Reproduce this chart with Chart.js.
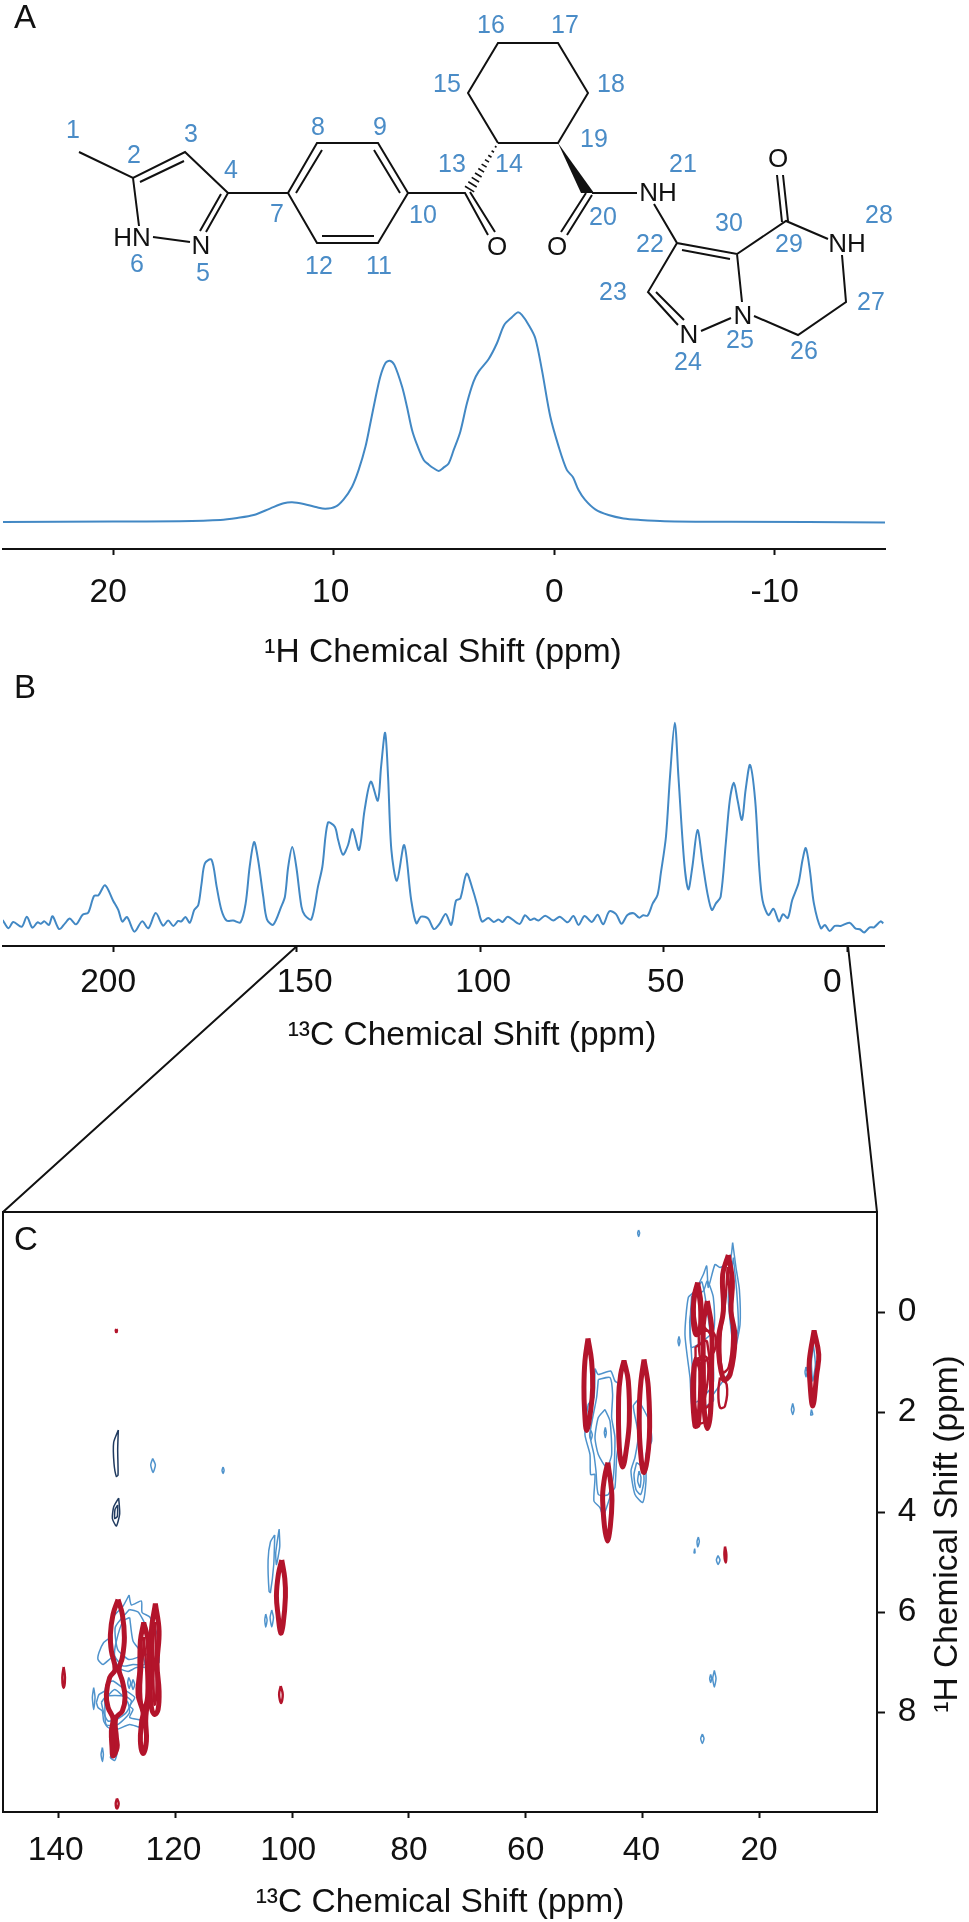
<!DOCTYPE html>
<html>
<head>
<meta charset="utf-8">
<title>NMR spectra</title>
<script src="https://cdn.jsdelivr.net/npm/chart.js@4"></script>
<style>
  html, body { margin: 0; padding: 0; background: #fff; }
  #page { position: relative; width: 969px; height: 1922px; overflow: hidden; }
  canvas { position: absolute; left: 0; }
  #drawing { position: absolute; left: 0; top: 0; }
  #drawing text { font-family: "Liberation Sans", sans-serif; text-anchor: middle; dominant-baseline: central; }
  #drawing .num { fill: #4a8cc7; font-size: 25px; }
  #drawing .atom { fill: #111; font-size: 26px; }
  #drawing .panel { fill: #111; font-size: 33px; }
</style>
</head>
<body>
<div id="page">
  <canvas id="protonChart" width="969" height="390" style="top:290px"></canvas>
  <canvas id="carbonChart" width="969" height="360" style="top:700px"></canvas>
  <canvas id="hetcorChart" width="969" height="722" style="top:1200px"></canvas>

  <!-- molecule, panel letters and the zoom connectors -->
  <svg id="drawing" width="969" height="1922">
    <g fill="none" stroke="#111" stroke-width="2">
      <path d="M79 152L133 178L185 152L228 193L206 232M140 182L184 161M221 194L200 231M153 237L190 242M133 178L139 226M228 193H288L317 143H378L408 193L378 243H317L288 193M296 193L322 150M374 150L400 193M322 236H374M408 193H465L488 235M470 192L495 232"/>
      <path d="M498 143L468 93L498 43H558L588 93L558 143H498M586 193L561 232M592 195L567 235M592 193H637M654 204L677 243L737 254L786 221L828 239M682 250L730 259M782 222L777 175M788 221L783 175M842 255L846 302L798 335L754 316M737 254L742 302M677 243L648 292L678 325M656 292L684 320M701 331L731 318"/>
      <path stroke-width="1.6" d="M494.9 146.3L496.5 147.3M491.6 150.8L494 152.2M488.3 155.2L491.5 157.2M485 159.6L489 162.2M481.6 164.1L486.6 167.1M478.3 168.5L484.1 172.1M475 173L481.6 177M471.7 177.4L479.1 182M468.3 181.8L476.7 187M465 186.3L474.2 191.9"/>
    </g>
    <polygon points="558,143 594,193 581,193" fill="#111"/>
    <path d="M297 946L3 1212M848 946L877 1212" stroke="#111" stroke-width="2" fill="none"/>

    <text class="atom" x="132" y="237">HN</text><text class="atom" x="201" y="245">N</text>
    <text class="atom" x="497" y="246">O</text><text class="atom" x="557" y="246">O</text>
    <text class="atom" x="658" y="192">NH</text><text class="atom" x="778" y="158">O</text>
    <text class="atom" x="847" y="243">NH</text><text class="atom" x="689" y="334">N</text>
    <text class="atom" x="743" y="315">N</text>

    <text class="num" x="73" y="129">1</text><text class="num" x="134" y="154">2</text>
    <text class="num" x="191" y="133">3</text><text class="num" x="231" y="169">4</text>
    <text class="num" x="203" y="272">5</text><text class="num" x="137" y="263">6</text>
    <text class="num" x="277" y="213">7</text><text class="num" x="318" y="126">8</text>
    <text class="num" x="380" y="126">9</text><text class="num" x="423" y="214">10</text>
    <text class="num" x="379" y="265">11</text><text class="num" x="319" y="265">12</text>
    <text class="num" x="452" y="163">13</text><text class="num" x="509" y="163">14</text>
    <text class="num" x="447" y="83">15</text><text class="num" x="491" y="24">16</text>
    <text class="num" x="565" y="24">17</text><text class="num" x="611" y="83">18</text>
    <text class="num" x="594" y="138">19</text><text class="num" x="603" y="216">20</text>
    <text class="num" x="683" y="163">21</text><text class="num" x="650" y="243">22</text>
    <text class="num" x="613" y="291">23</text><text class="num" x="688" y="361">24</text>
    <text class="num" x="740" y="339">25</text><text class="num" x="804" y="350">26</text>
    <text class="num" x="871" y="301">27</text><text class="num" x="879" y="214">28</text>
    <text class="num" x="789" y="243">29</text><text class="num" x="729" y="222">30</text>

    <text class="panel" x="25" y="16">A</text>
    <text class="panel" x="25" y="686">B</text>
    <text class="panel" x="26" y="1238">C</text>
  </svg>
</div>

<script>
// -----------------------------
// Data: [ppm, intensity]
// -----------------------------
const protonTicks = [20, 10, 0, -10];
const protonSpectrum = [
  [25, 0], [20, 0.2], [17, 0.4], [15.14, 0.95], [14.38, 1.9], [13.63, 3.3], [12.87, 6.5], [12.27, 8.9],
  [11.89, 9.4], [11.36, 8.6], [10.76, 7], [10.38, 6.3], [9.92, 7.3], [9.55, 10.8], [9.17, 16.8], [8.87, 24.8],
  [8.56, 35.9], [8.34, 47], [8.11, 58.9], [7.89, 69.2], [7.66, 75.6], [7.46, 76.8], [7.25, 74.8], [6.9, 64.4],
  [6.68, 54.9], [6.45, 43.8], [6.22, 36.7], [5.92, 29.5], [5.69, 27.3], [5.47, 25.6], [5.24, 24.3], [5.02, 25.9],
  [4.79, 27.9], [4.56, 34.3], [4.26, 43], [3.96, 56.5], [3.66, 66.8], [3.43, 71.6], [2.98, 77.5], [2.6, 85.1],
  [2.27, 93.8], [1.92, 97.5], [1.66, 99.8], [1.47, 98.6], [1.16, 93.8], [0.86, 87.5], [0.56, 72.4], [0.18, 50.2],
  [-0.2, 35.9], [-0.57, 24.8], [-0.85, 21.3], [-1.1, 15.2], [-1.4, 10.5], [-1.86, 6], [-2.46, 3.3], [-3.14, 1.7],
  [-3.9, 1], [-5, 0.4], [-8, 0.1], [-15, -0.2]
];

const carbonTicks = [200, 150, 100, 50, 0];
const carbonSpectrum = [
  [230.1, 0], [228.5, -4.2], [227.2, -1], [224.9, -3.4], [223.5, 1.7], [222, -3.9], [220.6, -1.2], [219.7, -1.9],
  [218.7, -0.7], [217.5, -2.5], [216.5, 1.9], [214.7, -4.6], [213.1, -1.7], [211.8, 0.7], [210.1, -2.2], [208.3, 2.7],
  [206.8, 3.7], [205.2, 12.2], [204, 12.5], [202.2, 17.6], [200, 9.8], [198.6, 5.1], [197.5, -0.8], [196.2, 1.5],
  [194.2, -5.9], [192.1, -0.7], [190.4, -4.2], [188.4, 3.5], [186.4, -2.9], [185, -0.3], [183.6, -3], [182.3, -0.5],
  [181.4, -0.7], [180.3, 1.5], [179.1, -1.4], [177.9, 5.1], [176.8, 7.6], [175.9, 18.6], [175, 28.7], [173.2, 30.6],
  [171.8, 16.9], [170.5, 5.1], [169.1, -0.3], [167.3, -0.3], [165.3, -1.2], [163.9, 8.4], [162.8, 27], [161.6, 39.5],
  [160.5, 30.4], [159.1, 11.8], [158.1, 0.3], [156.4, -2.4], [154.2, 6.8], [153.2, 11.8], [152.3, 27], [151.2, 37],
  [150.1, 27], [148.7, 6.8], [147.8, 2.5], [146, 0.3], [144.2, 16.9], [143, 27], [141.5, 49.3], [139.6, 47.3],
  [138.7, 40.5], [137.4, 33.1], [136, 38], [134.8, 46.1], [133, 35.5], [131.5, 55.7], [129.8, 70.1], [127.9, 60.5],
  [127, 77.7], [125.9, 94.9], [125.1, 72.6], [124.2, 35.5], [122.7, 19.9], [120.7, 38], [118.8, 10.1], [117.4, -1.7],
  [116.1, 1.7], [114.2, 0.8], [112.6, -4.6], [111.1, -2], [109.4, 3], [107.9, -2.5], [106.6, 9.8], [105.4, 11],
  [103.7, 23.5], [102, 15.2], [100.7, 6.8], [99.5, -0.8], [97.8, 1], [96.3, -1], [95, 0.3], [93.9, -1],
  [92.5, 1.7], [89.3, -2], [87.8, 2.4], [86.4, 0], [85.3, 0.7], [84.1, -0.3], [82.3, 2.2], [80.1, -0.3],
  [78.3, 1.7], [76.2, -1.2], [74.6, 2], [73.2, -2.5], [71.6, 2], [69.6, -1], [68, 2.7], [66.5, -2.2],
  [64.8, 4.4], [63, 3], [61.5, -1.9], [59.9, 2.5], [58.2, 3.4], [56.7, 1.2], [55.6, 2.4], [54.4, 2.2],
  [53, 8.4], [51.7, 12.7], [50.8, 23.6], [49.4, 42.2], [48.3, 72.6], [47, 100], [46, 72.6], [44.4, 28.7],
  [43.3, 15.5], [42.2, 27], [40.8, 45.6], [39.4, 28.7], [38.1, 13.5], [36.9, 5.1], [35.8, 8.4], [34.5, 11.8],
  [33.1, 38.9], [32, 60.8], [30.9, 69.6], [29.9, 60.8], [28.7, 50.7], [27.7, 65.9], [26.5, 78.6], [25.1, 60.8],
  [24, 27], [23.1, 10.1], [21.5, 2.5], [20.1, 5.7], [18.6, -0.7], [17.5, 2.9], [16.2, 1], [15, 10.1],
  [13.3, 18.6], [12.2, 30.4], [11.3, 36.5], [10.2, 25.3], [9.1, 8.4], [7.2, -4.2], [6.1, -2.5], [4.8, -5.6],
  [3.4, -3], [1.8, -3], [-0.6, -1.4], [-2.3, -4.4], [-3.4, -4.7], [-4.6, -6.3], [-6.1, -3.7], [-7.3, -3.7],
  [-9.1, -0.7], [-9.8, -1.7]
];

// 2D spectrum contours: each is a closed outline of [13C ppm, 1H ppm]
const hetcorXTicks = [140, 120, 100, 80, 60, 40, 20];
const hetcorYTicks = [0, 2, 4, 6, 8];

const redContours = [
  // 125-130 ppm aromatic group
  [[129.84, 5.75], [129.1, 6.05], [128.75, 6.51], [129.1, 6.91], [129.67, 7.15], [129.1, 7.38], [128.64, 7.71], [129.1, 7.98], [130.24, 8.13], [130.12, 8.51], [130, 8.71], [130.7, 8.88], [130.87, 8.71], [130.98, 8.38], [130.7, 8.13], [131.55, 7.91], [131.84, 7.65], [131.27, 7.31], [130.35, 7.15], [130.98, 6.78], [131.15, 6.45], [130.7, 6.05]],
  [[125.44, 6.21], [124.7, 6.58], [124.58, 7.18], [124.52, 7.65], [124.98, 7.98], [125.1, 8.18], [124.98, 8.58], [125.55, 8.83], [126.01, 8.58], [125.78, 8.18], [125.55, 8.01], [126.41, 7.65], [126.12, 7.18], [126.01, 6.58]],
  [[123.44, 5.83], [122.81, 6.38], [123.15, 7.05], [122.81, 7.58], [122.98, 7.95], [123.55, 8.05], [124.12, 7.91], [124.3, 7.58], [123.95, 7.11], [124.12, 6.38]],
  [[101.79, 4.96], [101.27, 5.33], [101.16, 5.7], [101.56, 6.25], [101.96, 6.42], [102.41, 6.07], [102.7, 5.68], [102.36, 5.24]],
  // 40-50 ppm group
  [[49.32, 0.53], [48.7, 0.98], [48.52, 1.51], [48.87, 1.98], [49.55, 2.37], [49.9, 1.98], [50.01, 1.51], [49.84, 0.98]],
  [[43.15, 0.97], [42.41, 1.38], [42.24, 2.18], [42.7, 2.71], [43.38, 3.1], [43.95, 2.71], [44.07, 1.71], [43.72, 1.25]],
  [[39.72, 0.95], [38.98, 1.51], [38.81, 2.51], [39.72, 3.21], [40.41, 2.65], [40.52, 1.91], [40.24, 1.38]],
  [[45.9, 3.01], [45.21, 3.77], [46.01, 4.58], [46.81, 3.77], [46.47, 3.3]],
  // 25-31 ppm group
  [[25.27, -1.14], [24.58, -0.62], [24.81, -0.02], [24.13, 0.51], [24.98, 1.25], [26.13, 1.35], [26.98, 0.58], [26.13, -0.02], [26.24, -0.75]],
  [[30.53, -0.59], [29.96, -0.15], [30.13, 0.38], [30.81, 0.45], [31.27, 0.18], [31.16, -0.29]],
  [[30.7, 0.91], [30.01, 1.18], [30.41, 2.25], [30.98, 2.28], [31.38, 1.58], [31.16, 1.11]],
  [[28.87, -0.22], [28.13, 0.31], [28.13, 1.05], [28.3, 1.98], [28.87, 2.33], [29.38, 1.98], [29.56, 1.05], [29.56, 0.25]],
  [[10.58, 0.37], [9.78, 0.85], [10.13, 1.25], [10.81, 1.88], [11.38, 1.25], [11.38, 0.95]]
];
const redThinContours = [
  [[26.7, 1.31], [25.56, 1.45], [25.84, 1.88], [26.7, 1.91], [26.98, 1.58]],
  [[30.41, 0.38], [27.84, 0.41], [27.67, 0.78], [29.84, 0.98]],
  [[31.27, 1.05], [28.98, 0.91], [29.27, 1.71], [30.81, 1.98]],
  [[30.9, 0.7], [28.9, 0.6], [28.6, 2.1], [30.6, 2.2]],
  [[29.4, 0.3], [28.2, 0.5], [28.3, 1.8], [29.3, 1.9]],
  [[30.6, -0.45], [30.2, 0], [30.4, 0.4], [31, 0.1], [31, -0.2]],
  [[25.4, -0.9], [25, -0.3], [24.6, 0.5], [25.2, 1.1], [26.3, 1.2], [26.6, 0.5], [25.8, -0.2]],
  [[123.5, 6.2], [123.3, 7], [123.3, 7.7], [123.6, 7.85], [123.8, 7.1], [123.8, 6.3]],
  [[125.4, 6.5], [125, 7.2], [125, 7.7], [125.5, 7.9], [125.9, 7.6], [125.7, 7.1]],
  [[130.4, 8.2], [130.3, 8.6], [130.5, 8.75], [130.7, 8.5]],
  [[130.13, 0.34], [130.02, 0.37], [130.13, 0.4], [130.24, 0.37]],
  [[139.16, 7.1], [138.93, 7.31], [139.16, 7.52], [139.39, 7.31]],
  [[130.02, 9.73], [129.73, 9.83], [130.02, 9.93], [130.24, 9.83]],
  [[101.96, 7.48], [101.62, 7.65], [101.9, 7.82], [102.24, 7.65]],
  [[25.84, 4.69], [25.61, 4.85], [25.72, 5.01], [25.95, 4.85]]
];
const navyContours = [
  [[129.79, 2.36], [129.9, 2.75], [129.84, 3.26], [130.13, 3.29], [130.53, 3.03], [130.59, 2.61]],
  [[129.73, 3.72], [129.56, 4.04], [130.13, 4.28], [130.81, 4.13], [130.59, 3.9]],
  [[129.9, 3.86], [129.96, 4.09], [130.41, 4.13], [130.36, 3.95]]
];
const blueContours = [
  // aromatic envelope
  [[127.95, 5.66], [127.55, 5.86], [125.84, 5.78], [125.72, 6.01], [124.41, 6.1], [123.15, 6.45], [122.81, 7.01], [123.72, 7.05], [124.12, 7.18], [125.1, 7.11], [126.7, 7.11], [127.38, 7.15], [128.12, 7.19], [129.55, 7.13], [130.81, 6.91], [132.41, 7.05], [133.27, 6.95], [133.1, 6.81], [132.3, 6.61], [131.27, 6.51], [130.7, 6.11], [128.98, 5.88]],
  [[127.84, 6.11], [127.27, 6.58], [125.84, 6.81], [125.27, 7.05], [127.27, 7.05], [128.98, 7.08], [130.41, 6.88], [130.12, 6.58], [128.98, 6.18]],
  [[127.9, 5.95], [126.4, 6], [125, 6.3], [124.2, 6.8], [126.3, 6.9], [128, 6.95], [129.9, 6.75], [130.3, 6.3]],
  [[133.55, 7.81], [133.1, 7.65], [132.13, 7.58], [131.84, 7.45], [130.7, 7.38], [128.41, 7.58], [126.98, 7.71], [127.84, 7.88], [127.27, 7.95], [127.84, 8.11], [125.55, 8.18], [125.84, 8.31], [127.84, 8.25], [130.12, 8.35], [131.55, 8.31], [132.3, 8.18], [132.53, 7.98], [133.27, 7.91]],
  [[132.7, 7.81], [131.84, 7.68], [128.7, 7.68], [127.55, 7.78], [128.41, 8.01], [130.12, 8.15], [131.55, 8.18], [132.3, 8.01]],
  [[132.1, 7.75], [130.4, 7.55], [128.2, 7.8], [127.9, 8.02], [129.9, 8.25], [131.9, 8.25]],
  [[128.01, 7.31], [127.67, 7.41], [127.95, 7.53], [128.18, 7.41]],
  [[127.27, 7.35], [126.98, 7.45], [127.27, 7.55], [127.5, 7.45]],
  [[134.01, 7.51], [133.78, 7.71], [134.01, 7.95], [134.24, 7.71]],
  [[132.52, 8.71], [132.35, 8.85], [132.52, 8.99], [132.75, 8.85]],
  [[130.7, 8.78], [130.01, 8.81], [130.41, 8.97], [131.15, 8.91]],
  [[123.9, 2.93], [123.44, 3.06], [123.84, 3.21], [124.24, 3.06]],
  [[111.84, 3.1], [111.67, 3.17], [111.84, 3.23], [112.02, 3.17]],
  // near 102 ppm
  [[102.24, 4.34], [102.13, 4.69], [102.7, 5.05], [102.82, 4.82]],
  [[102.99, 4.46], [103.16, 5.05], [103.73, 5.61], [103.96, 5.59], [104.13, 4.96], [103.73, 4.6]],
  [[104.53, 6.04], [104.3, 6.16], [104.53, 6.3], [104.7, 6.16]],
  [[103.5, 5.96], [103.21, 6.11], [103.5, 6.3], [103.79, 6.11]],
  // 44-50 ppm envelope
  [[48.12, 1.13], [47.55, 1.25], [45.44, 1.18], [44.7, 1.38], [43.95, 1.45], [43.84, 2.38], [44.41, 2.91], [44.7, 3.51], [45.27, 3.61], [46.7, 4.08], [47.27, 3.91], [48.3, 3.78], [48.12, 3.25], [48.87, 3.25], [48.98, 2.85], [49.84, 2.45], [49.27, 1.85], [48.3, 1.71]],
  [[47.55, 1.35], [45.55, 1.31], [45.1, 1.65], [45.27, 2.11], [44.7, 2.51], [44.98, 3.31], [45.84, 3.65], [47.55, 3.65], [47.95, 3.18], [48.3, 2.85], [48.98, 2.45], [47.84, 1.71]],
  [[46.41, 1.95], [45.55, 2.18], [45.27, 2.85], [46.12, 3.11], [47.55, 2.85], [48.12, 2.51], [47.55, 2.11]],
  [[46.35, 2.31], [46.18, 2.41], [46.35, 2.51], [46.52, 2.41]],
  [[48.81, 2.37], [48.58, 2.46], [48.81, 2.56], [49.04, 2.46]],
  [[40.7, 1.75], [38.81, 2.18], [38.41, 2.58], [39.38, 2.85], [39.38, 3.38], [39.95, 3.81], [41.27, 3.65], [41.95, 3.18], [41.27, 2.91], [40.7, 2.45], [41.55, 1.88]],
  [[40.98, 3.01], [39.95, 3.11], [39.72, 3.38], [40.3, 3.65], [41.1, 3.55], [41.44, 3.25]],
  [[40.58, 3.18], [40.24, 3.31], [40.41, 3.51], [40.81, 3.38]],
  // 24-33 ppm envelope
  [[24.53, -1.39], [23.96, -0.89], [23.38, -0.45], [23.27, 0.25], [24.13, 0.78], [24.98, 1.18], [27.84, 1.65], [27.84, 1.78], [31.27, 1.98], [31.84, 1.31], [32.7, 0.45], [32.13, -0.29], [30.98, -0.42], [29.56, -0.75], [28.98, -0.92], [28.7, -0.49], [27.56, -0.95], [26.7, -0.89], [24.98, -1.02]],
  [[24.41, -1.09], [23.84, -0.42], [23.56, 0.31], [24.41, 0.65], [25.27, -0.29]],
  [[31.56, -0.32], [29.56, -0.42], [28.87, -0.62], [27.84, -0.29], [27.84, 0.38], [31.56, 0.71], [31.84, 0.25]],
  [[31.9, 0.2], [31.4, 1.2], [30.9, 1.8], [27.9, 1.45], [28.3, 0.5], [29.8, -0.6], [31.2, -0.3]],
  [[33.73, 0.49], [33.56, 0.58], [33.73, 0.68], [33.9, 0.58]],
  [[14.24, 1.83], [14.01, 1.95], [14.24, 2.05], [14.47, 1.95]],
  [[11.96, 1.1], [11.78, 1.2], [11.96, 1.3], [12.13, 1.2]],
  [[10.7, 0.65], [10.36, 1.05], [10.81, 1.38], [11.04, 1.01]],
  [[11.04, 1.95], [10.81, 2.05], [11.16, 2.06]],
  // scattered small peaks
  [[40.64, -1.64], [40.47, -1.58], [40.64, -1.51], [40.81, -1.58]],
  [[30.41, 4.5], [30.24, 4.59], [30.52, 4.7], [30.64, 4.59]],
  [[31.04, 4.73], [30.98, 4.82], [31.15, 4.82]],
  [[27.04, 4.87], [26.7, 4.96], [27.04, 5.05], [27.32, 4.96]],
  [[27.67, 7.17], [27.38, 7.33], [27.67, 7.5], [27.95, 7.33]],
  [[28.3, 7.25], [28.12, 7.33], [28.3, 7.41], [28.47, 7.33]],
  [[29.72, 8.44], [29.44, 8.53], [29.72, 8.63], [30.01, 8.53]]
];

// -----------------------------
// Shared bits
// -----------------------------
const INK = "#111";
const LINE_BLUE = "#4288c4";
const FONT = '"Liberation Sans", sans-serif';

// Tick labels in the figure sit slightly off their ticks, and the axis titles
// are placed by hand, so they get drawn here instead of by the scale.
const axisText = {
  id: "axisText",
  afterDraw(chart, args, opts) {
    const ctx = chart.ctx;
    ctx.save();
    ctx.fillStyle = INK;
    ctx.font = `${opts.size}px ${FONT}`;
    ctx.textAlign = "center";
    ctx.textBaseline = "middle";

    const xs = chart.scales.x;
    xs.ticks.forEach(t => {
      const nudge = (opts.nudge && opts.nudge[t.value]) || 0;
      ctx.fillText(String(t.value), xs.getPixelForValue(t.value) + nudge, chart.chartArea.bottom + opts.gap);
    });
    if (opts.yGap) {
      const ys = chart.scales.y;
      ys.ticks.forEach(t => ctx.fillText(String(t.value), chart.chartArea.right + opts.yGap, ys.getPixelForValue(t.value)));
    }

    ctx.fillText(opts.title, opts.titleX, opts.titleY);
    if (opts.yTitle) {
      ctx.translate(opts.yTitleX, opts.yTitleY);
      ctx.rotate(-Math.PI / 2);
      ctx.fillText(opts.yTitle, 0, 0);
    }
    ctx.restore();
  }
};

const frameBox = {
  id: "frameBox",
  afterDraw(chart, args, opts) {
    if (!opts.on) return;
    const { left, top, right, bottom } = chart.chartArea;
    const ctx = chart.ctx;
    ctx.save();
    ctx.strokeStyle = INK;
    ctx.lineWidth = 2;
    ctx.strokeRect(left, top, right - left, bottom - top);
    ctx.restore();
  }
};

function toPoints(pairs) {
  return pairs.map(p => ({ x: p[0], y: p[1] }));
}

function xAxis(min, max, ticks, height, tickLen) {
  return {
    type: "linear",
    position: "bottom",
    reverse: true,
    min, max,
    afterBuildTicks: s => { s.ticks = ticks.map(v => ({ value: v })); },
    afterFit: s => { s.height = height; },
    ticks: { display: false },
    grid: { drawOnChartArea: false, drawTicks: true, tickLength: tickLen, tickColor: INK, tickWidth: 2 },
    border: { color: INK, width: 2 }
  };
}

function spectrumChart(id, pairs, xMin, xMax, yMin, yMax, ticks, axisHeight, padding, textOpts) {
  return new Chart(document.getElementById(id), {
    type: "scatter",
    data: {
      datasets: [{
        data: toPoints(pairs),
        showLine: true,
        borderColor: LINE_BLUE,
        borderWidth: 2,
        pointRadius: 0,
        tension: 0.3
      }]
    },
    options: {
      responsive: false,
      animation: false,
      layout: { padding },
      plugins: { legend: { display: false }, tooltip: { enabled: false }, axisText: textOpts },
      scales: {
        x: xAxis(xMin, xMax, ticks, axisHeight, 6),
        y: { display: false, min: yMin, max: yMax }
      }
    },
    plugins: [axisText]
  });
}

// -----------------------------
// Panel A: 1H spectrum
// -----------------------------
spectrumChart("protonChart", protonSpectrum, -15, 25, -12.86, 105.7, protonTicks, 131,
  { left: 3, right: 84, top: 10, bottom: 0 },
  { size: 33.5, gap: 44, nudge: { 20: -5, 10: -3 }, title: "¹H Chemical Shift (ppm)", titleX: 443, titleY: 363 });

// -----------------------------
// Panel B: 13C spectrum
// -----------------------------
spectrumChart("carbonChart", carbonSpectrum, -10, 230, -13.18, 103.9, carbonTicks, 114,
  { left: 3, right: 85, top: 15, bottom: 0 },
  { size: 33.5, gap: 37, nudge: { 200: -5, 150: 8, 100: 3, 50: 2, 0: -15 }, title: "¹³C Chemical Shift (ppm)", titleX: 472, titleY: 336 });

// -----------------------------
// Panel C: 2D contour plot
// -----------------------------
function contourSets(list, color, width, order, tension) {
  return list.map(pairs => ({
    data: toPoints(pairs.concat([pairs[0]])),
    showLine: true,
    borderColor: color,
    borderWidth: width,
    pointRadius: 0,
    tension,
    order
  }));
}

new Chart(document.getElementById("hetcorChart"), {
  type: "scatter",
  data: {
    datasets: [
      ...contourSets(redContours, "#b3142b", 5, 0, 0.4),
      ...contourSets(redThinContours, "#b3142b", 2.4, 1, 0.4),
      ...contourSets(navyContours, "#1f3a5f", 1.5, 2, 0.2),
      ...contourSets(blueContours, "#4f93cc", 1.5, 3, 0.2)
    ]
  },
  options: {
    responsive: false,
    animation: false,
    layout: { padding: { left: 3, right: 0, top: 12, bottom: 0 } },
    plugins: {
      legend: { display: false },
      tooltip: { enabled: false },
      frameBox: { on: true },
      axisText: {
        size: 33.5, gap: 39, yGap: 30,
        nudge: { 140: -3, 120: -2, 100: -4, 40: -1 },
        title: "¹³C Chemical Shift (ppm)", titleX: 440, titleY: 703,
        yTitle: "¹H Chemical Shift (ppm)", yTitleX: 948, yTitleY: 334
      }
    },
    scales: {
      x: xAxis(-0.2, 149.55, hetcorXTicks, 110, 6),
      y: {
        type: "linear",
        position: "right",
        reverse: true,
        min: -2, max: 10,
        afterBuildTicks: s => { s.ticks = hetcorYTicks.map(v => ({ value: v })); },
        afterFit: s => { s.width = 92; },
        ticks: { display: false },
        grid: { drawOnChartArea: false, tickLength: 8, tickColor: INK, tickWidth: 2 },
        border: { color: INK, width: 2 }
      }
    }
  },
  plugins: [axisText, frameBox]
});
</script>
</body>
</html>
